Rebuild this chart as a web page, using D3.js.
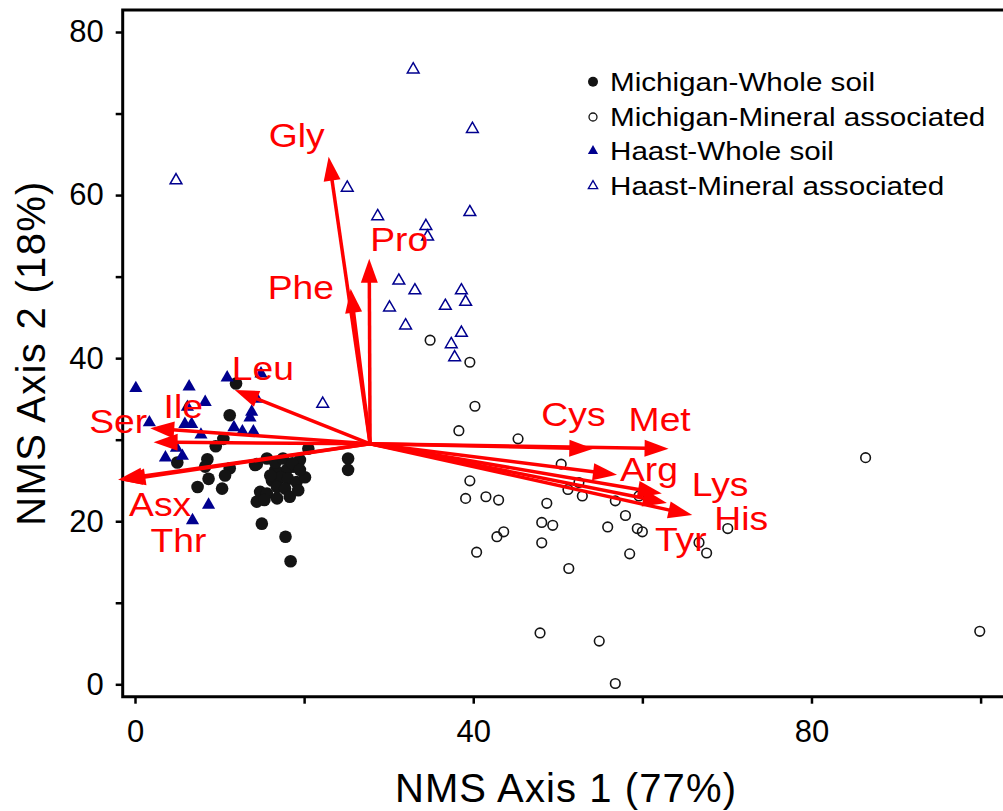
<!DOCTYPE html>
<html>
<head>
<meta charset="utf-8">
<script src="https://cdn.jsdelivr.net/npm/d3@7"></script>
<style>
  html, body { margin: 0; padding: 0; background: #fff; }
  svg { display: block; }
  text { font-family: Arial, "Liberation Sans", Helvetica, sans-serif; }
</style>
</head>
<body>
<svg id="chart" width="1003" height="811"></svg>
<script>
// ---------------- DATA ----------------
const michiganWhole = [
  [11.95,36.9],[11.2,33.0],[10.45,30.1],[9.55,29.2],[5.0,27.2],[8.56,27.6],[8.3,26.7],
  [11.2,26.5],[10.65,25.6],[8.7,25.2],[7.4,24.2],[10.3,24.0],[15.6,27.7],[14.2,26.9],
  [20.5,28.9],[25.2,27.7],[25.2,26.3],[19.5,27.5],[18.7,26.7],[17.95,26.3],[16.6,26.3],
  [16.2,25.0],[17.2,25.4],[18.1,25.2],[19.1,24.8],[20.1,25.4],[16.8,24.2],[17.75,24.0],
  [14.8,23.6],[15.6,23.4],[14.4,22.4],[18.3,23.0],[15.0,19.7],[17.8,18.1],[18.4,15.1],
  [16.6,27.2],[17.5,27.7],[18.6,27.1],[19.5,26.3],[16.0,25.6],[19.3,23.8],[16.8,22.8],
  [15.3,22.6],[14.4,27.0]
];
const michiganMineral = [
  [34.9,42.2],[39.6,39.5],[40.2,34.1],[38.3,31.1],[45.3,30.1],[50.4,27.0],[39.6,24.95],
  [39.1,22.8],[41.5,23.0],[43.0,22.6],[52.5,24.75],[51.2,23.9],[52.9,23.1],[48.7,22.2],
  [56.8,22.5],[59.6,23.1],[58.0,20.7],[48.1,19.85],[49.4,19.5],[55.9,19.3],[59.4,19.1],
  [60.0,18.7],[43.6,18.7],[42.8,18.1],[48.1,17.35],[40.4,16.2],[58.5,16.0],[51.3,14.2],
  [66.7,17.4],[67.6,16.1],[47.9,6.3],[54.9,5.3],[56.8,0.1],[70.1,19.1],[86.4,27.8],[99.9,6.5]
];
const haastWhole = [
  [0.1,36.3],[6.4,36.5],[8.3,34.6],[10.9,37.6],[14.9,38.1],[14.4,35.0],[13.8,33.4],
  [13.6,32.7],[11.7,31.5],[12.7,31.0],[14.0,31.0],[1.7,32.1],[5.9,31.9],[6.7,31.9],
  [7.8,30.6],[4.9,29.0],[5.6,28.0],[3.6,27.8],[8.7,22.0],[6.8,20.1],[6.2,34.0]
];
const haastMineral = [
  [32.9,75.4],[39.9,68.1],[25.1,60.9],[28.7,57.4],[34.4,56.2],[34.6,54.9],[39.6,57.9],
  [31.2,49.5],[33.1,48.3],[30.1,46.2],[32.0,44.0],[36.7,46.4],[38.6,48.3],[39.1,46.9],
  [38.6,43.1],[37.4,41.7],[37.8,40.1],[4.85,61.8],[22.2,34.4]
];
const vectorOrigin = [27.8, 29.5];
const vectorNames = ["Gly","Pro","Phe","Leu","Ser","Ile","Asx","Thr","Cys","Met","Arg","Lys","Tyr","His"];
const vectorX     = [22.9, 27.7, 25.5, 11.8, 1.8, 2.2, -2.0, -1.6, 54.2, 63.1, 57.0, 62.3, 62.9, 65.9];
const vectorY     = [64.7, 52.2, 48.5, 36.1, 31.4, 29.7, 25.1, 25.0, 28.9, 28.9, 25.7, 23.4, 22.25, 20.75];

const seriesNames = ["Michigan-Whole soil","Michigan-Mineral associated","Haast-Whole soil","Haast-Mineral associated"];
const xTicks = [0, 20, 40, 60, 80, 100];
const xTickLabels = ["0", "", "40", "", "80", ""];
const yTicks = [0, 10, 20, 30, 40, 50, 60, 70, 80];
const yTickLabels = ["0", "", "20", "", "40", "", "60", "", "80"];
const xTitle = "NMS Axis 1 (77%)";
const yTitle = "NMS Axis 2 (18%)";

// ---------------- LAYOUT ----------------
const frame = { left: 122.7, top: 10, right: 1012, bottom: 696.7 };
// label offsets (pixels) from arrow tip: [dx to text start, dy to baseline]
const labelOffsets = {
  Gly: [-60, -10], Pro: [1, -8], Phe: [-83, 10], Leu: [-3, -10], Ser: [-61, 5],
  Ile: [10, -24], Asx: [11, 36], Thr: [29, 72], Cys: [-52, -23], Met: [-40, -18],
  Arg: [3, 6], Lys: [30, 2], Tyr: [-12, 48], His: [22, 15]
};
const RED = "#ff0000", BLUE = "#00008f", BLACK = "#141414";

const svg = d3.select("#chart");
const x = d3.scaleLinear().domain([0, 100]).range([135, 980.6]);
const y = d3.scaleLinear().domain([0, 80]).range([684.3, 32]);

// frame
svg.append("path")
  .attr("d", `M${frame.right},${frame.top}H${frame.left}V${frame.bottom}H${frame.right}`)
  .attr("fill", "none").attr("stroke", "#000").attr("stroke-width", 3);

// axes
const xAxis = d3.axisBottom(x).tickValues(xTicks).tickSize(7).tickPadding(16)
  .tickFormat((d, i) => xTickLabels[i]);
const gx = svg.append("g").attr("transform", `translate(0,${frame.bottom})`).call(xAxis);
gx.select(".domain").remove();
gx.selectAll(".tick line").attr("stroke", "#000").attr("stroke-width", 2.5);
gx.selectAll(".tick text").attr("font-size", 31).attr("fill", "#000")
  .attr("font-family", "Arial, 'Liberation Sans', sans-serif");

const yAxis = d3.axisLeft(y).tickValues(yTicks).tickSize(7).tickPadding(12)
  .tickFormat((d, i) => yTickLabels[i]);
const gy = svg.append("g").attr("transform", `translate(${frame.left},0)`).call(yAxis);
gy.select(".domain").remove();
gy.selectAll(".tick line").attr("stroke", "#000").attr("stroke-width", 2.5);
gy.selectAll(".tick text").attr("font-size", 31).attr("fill", "#000")
  .attr("font-family", "Arial, 'Liberation Sans', sans-serif");

// axis titles
svg.append("text").attr("x", 566).attr("y", 801.5).attr("text-anchor", "middle")
  .attr("font-size", 40).attr("letter-spacing", 1.1).attr("fill", "#000").text(xTitle);
svg.append("text").attr("transform", "translate(45,353) rotate(-90)").attr("text-anchor", "middle")
  .attr("font-size", 40).attr("letter-spacing", 1.3).attr("fill", "#000").text(yTitle);

// symbols
const triUp = d3.symbol().type(d3.symbolTriangle);
const gPts = svg.append("g");
gPts.selectAll(".mw").data(michiganWhole).join("circle")
  .attr("cx", d => x(d[0])).attr("cy", d => y(d[1])).attr("r", 6.3).attr("fill", BLACK);
gPts.selectAll(".mm").data(michiganMineral).join("circle")
  .attr("cx", d => x(d[0])).attr("cy", d => y(d[1])).attr("r", 4.8)
  .attr("fill", "none").attr("stroke", BLACK).attr("stroke-width", 1.6);
gPts.selectAll(".hw").data(haastWhole).join("path")
  .attr("d", triUp.size(75)).attr("transform", d => `translate(${x(d[0])},${y(d[1])})`)
  .attr("fill", BLUE);
gPts.selectAll(".hm").data(haastMineral).join("path")
  .attr("d", triUp.size(60)).attr("transform", d => `translate(${x(d[0])},${y(d[1])})`)
  .attr("fill", "none").attr("stroke", BLUE).attr("stroke-width", 1.5);

// vectors
const ox = x(vectorOrigin[0]), oy = y(vectorOrigin[1]);
const headLen = 24, headHalf = 8.5;
const gv = svg.append("g");
vectorNames.forEach((name, i) => {
  const tx = x(vectorX[i]), ty = y(vectorY[i]);
  const dx = tx - ox, dy = ty - oy, L = Math.hypot(dx, dy);
  const ux = dx / L, uy = dy / L;
  const bx = tx - ux * headLen, by = ty - uy * headLen;
  gv.append("line").attr("x1", ox).attr("y1", oy).attr("x2", bx + ux * 2).attr("y2", by + uy * 2)
    .attr("stroke", RED).attr("stroke-width", 3.5);
  gv.append("path")
    .attr("d", `M${tx},${ty}L${bx - uy * headHalf},${by + ux * headHalf}L${bx + uy * headHalf},${by - ux * headHalf}Z`)
    .attr("fill", RED);
  const off = labelOffsets[name];
  gv.append("text").attr("transform", `translate(${tx + off[0]},${ty + off[1]}) scale(1.13,1)`)
    .attr("font-size", 33).attr("fill", RED).text(name);
});

// legend
const legend = svg.append("g");
const legY = [81.7, 117, 151, 186];
const legX = 593;
legend.append("circle").attr("cx", legX).attr("cy", legY[0]).attr("r", 5).attr("fill", BLACK);
legend.append("circle").attr("cx", legX).attr("cy", legY[1]).attr("r", 4)
  .attr("fill", "none").attr("stroke", BLACK).attr("stroke-width", 1.3);
legend.append("path").attr("d", triUp.size(45)).attr("transform", `translate(${legX},${legY[2]})`).attr("fill", BLUE);
legend.append("path").attr("d", triUp.size(38)).attr("transform", `translate(${legX},${legY[3]})`)
  .attr("fill", "none").attr("stroke", BLUE).attr("stroke-width", 1.3);
seriesNames.forEach((s, i) => {
  legend.append("text").attr("transform", `translate(610,${legY[i]}) scale(1.14,1)`).attr("dy", "0.36em")
    .attr("font-size", 26).attr("fill", "#000").text(s);
});
</script>
</body>
</html>
